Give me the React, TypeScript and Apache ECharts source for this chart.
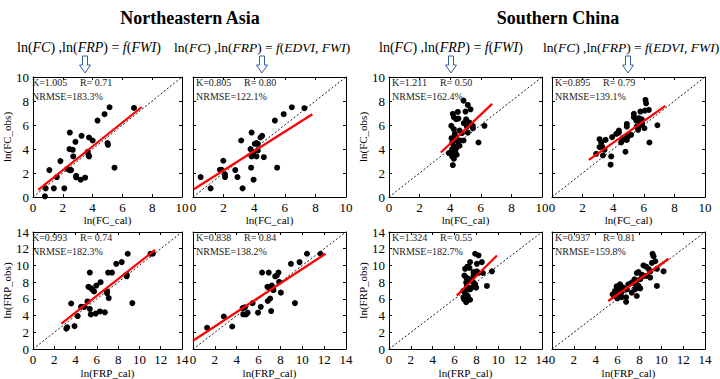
import React, { useEffect, useRef } from 'react';
import * as echarts from 'echarts';

// ---- Data ----
const panelKeys = ['NE FC FWI', 'NE FC EDVI', 'SC FC FWI', 'SC FC EDVI', 'NE FRP FWI', 'NE FRP EDVI', 'SC FRP FWI', 'SC FRP EDVI'];

const neFcFwi = [[0.8,0.06],[0.85,0.72],[1.4,0.72],[2.1,0.72],[1.1,2.24],[1.6,1.66],[1.84,2.99],[2.3,2.35],[2.45,2.24],[2.56,2.24],[2.45,3.99],[2.67,3.93],[2.47,5.37],[2.7,3.38],[2.85,4.6],[2.9,1.77],[2.9,1.63],[3.2,1.44],[3.26,5.1],[3.5,1.61],[3.67,3.77],[3.72,3.52],[3.76,3.38],[3.76,4.96],[4.0,4.71],[4.33,6.37],[5.0,4.49],[5.03,4.35],[4.8,6.9],[5.14,7.48],[5.47,2.44],[6.78,7.42]];
const neFcEdvi = [[0.5,1.66],[1.15,0.72],[1.76,2.27],[1.87,2.27],[1.98,3.02],[2.09,1.88],[2.09,1.66],[2.76,2.24],[2.91,1.66],[3.15,4.71],[3.24,0.72],[3.76,3.99],[3.83,5.37],[3.83,3.38],[3.8,2.44],[3.93,3.71],[3.96,1.44],[4.04,4.43],[4.15,4.49],[4.24,4.43],[4.15,3.38],[4.24,3.88],[4.41,4.96],[4.52,5.1],[4.63,3.32],[5.5,2.44],[5.35,6.37],[5.93,6.9],[6.46,7.48],[7.28,7.4]];
const scFcFwi = [[4.17,2.66],[4.17,6.93],[4.24,6.65],[4.5,7.09],[4.87,8.03],[5.15,7.67],[5.33,7.31],[5.0,7.12],[4.39,6.48],[4.54,6.54],[5.04,6.48],[4.89,6.15],[5.09,5.87],[5.26,6.2],[5.48,5.93],[5.48,5.73],[6.24,5.93],[5.85,4.54],[4.07,5.93],[4.24,5.65],[4.61,5.54],[4.76,5.32],[5.15,5.37],[4.09,4.9],[4.24,4.76],[4.39,4.9],[4.65,4.71],[4.87,4.71],[4.13,4.49],[4.28,4.21],[4.39,4.07],[4.13,3.99],[3.91,3.66],[4.22,3.66],[4.33,3.8],[4.13,3.38],[4.43,3.52],[4.24,3.19],[4.61,4.27],[4.3,5.26],[4.52,4.54]];
const scFcEdvi = [[6.11,8.09],[6.15,7.81],[6.07,7.2],[6.33,7.26],[5.78,7.12],[5.35,6.93],[5.35,6.65],[5.5,6.37],[5.67,6.57],[5.87,6.48],[5.78,6.15],[5.72,5.93],[5.54,5.87],[5.89,6.09],[6.04,5.73],[5.63,5.6],[6.89,5.98],[6.37,4.54],[4.89,6.09],[4.89,5.87],[5.17,5.18],[4.96,5.04],[4.89,4.76],[4.63,4.9],[4.59,4.71],[4.37,5.54],[4.2,5.26],[4.37,5.37],[3.93,4.99],[4.8,3.77],[3.87,3.38],[3.83,2.69],[3.11,4.82],[3.22,4.54],[3.11,4.16],[3.28,4.21],[3.43,3.93],[3.33,3.46],[2.89,3.6],[3.5,4.76],[4.52,4.54]];
const neFrpFwi = [[3.13,2.45],[3.22,2.6],[3.9,2.75],[3.59,5.45],[4.2,3.95],[4.51,5.05],[4.82,5.05],[5.12,5.7],[5.34,4.8],[5.34,9.15],[5.21,7.45],[5.43,7.3],[5.58,7.1],[5.74,6.9],[5.43,4.15],[5.89,4.25],[5.95,7.6],[6.35,8.0],[6.29,4.5],[6.75,4.4],[6.96,6.9],[6.96,6.7],[7.06,9.15],[7.42,9.15],[7.12,6.1],[7.82,10.2],[8.34,10.4],[8.8,8.9],[8.8,8.7],[8.9,11.4],[9.33,5.5],[11.04,11.4],[11.26,11.4]];
const neFrpEdvi = [[1.29,2.55],[2.82,3.9],[3.59,2.7],[4.54,4.9],[4.75,5.0],[4.6,4.15],[4.85,4.15],[5.0,4.35],[5.46,5.5],[5.95,4.35],[6.2,5.05],[6.32,9.15],[6.93,9.15],[6.81,7.45],[6.99,7.3],[6.84,5.75],[7.06,6.05],[7.15,4.55],[7.21,7.6],[7.36,7.05],[7.52,8.7],[7.67,8.8],[7.82,9.15],[7.88,8.05],[8.04,6.75],[8.96,10.2],[9.33,5.5],[9.75,10.4],[10.43,11.4],[11.66,11.4]];
const scFrpFwi = [[7.88,11.4],[8.19,11.2],[7.42,10.4],[8.04,10.2],[8.5,10.4],[7.18,9.85],[7.36,9.7],[6.96,9.6],[7.73,9.2],[8.04,9.3],[8.19,9.1],[8.59,9.1],[9.42,9.3],[6.9,8.8],[7.06,8.55],[7.27,8.4],[7.58,8.15],[7.73,7.95],[7.88,7.75],[7.98,7.35],[7.06,7.95],[7.12,7.5],[7.18,7.25],[7.42,7.15],[8.96,7.55],[6.81,6.95],[6.96,6.75],[7.06,6.55],[7.21,6.35],[6.81,6.2],[6.87,5.95],[7.12,5.8],[7.27,6.05],[7.42,5.9],[7.06,5.6],[7.58,7.35],[7.73,8.75]];
const scFrpEdvi = [[9.2,11.4],[9.29,11.1],[9.45,10.5],[9.14,10.3],[8.37,10.0],[8.62,9.85],[8.83,9.6],[8.99,9.3],[9.6,9.6],[10.21,9.3],[7.76,9.1],[7.91,9.2],[8.22,8.9],[8.37,8.75],[8.68,8.75],[8.99,8.55],[7.55,8.35],[7.7,8.15],[8.07,8.35],[7.3,7.95],[6.99,7.75],[7.61,7.75],[7.91,7.55],[6.53,7.35],[6.23,7.75],[5.92,7.5],[6.07,7.25],[5.77,6.95],[6.84,7.15],[8.07,7.25],[9.6,7.55],[5.55,6.55],[5.67,6.35],[6.07,6.55],[6.23,6.35],[5.98,6.05],[6.38,6.2],[6.78,6.2],[6.78,5.65],[7.76,6.35],[7.3,6.75],[6.38,6.85],[7.61,7.15]];

const fitLines = [
  [[0.35, 0.6], [7.3, 7.5]],
  [[0.05, 0.65], [7.8, 6.9]],
  [[3.39, 3.71], [6.74, 7.76]],
  [[2.41, 3.1], [7.41, 7.59]],
  [[2.67, 3.05], [11.47, 11.85]],
  [[0.0, 1.0], [12.12, 11.4]],
  [[6.2, 6.4], [9.88, 11.2]],
  [[5.15, 5.75], [10.67, 10.8]],
];

const statK = ['K=1.005', 'K=0.805', 'K=1.211', 'K=0.895', 'K=0.993', 'K=0.838', 'K=1.324', 'K=0.937'];
const statR = ['R= 0.71', 'R= 0.80', 'R= 0.50', 'R= 0.79', 'R= 0.74', 'R= 0.84', 'R= 0.55', 'R= 0.81'];
const statN = ['NRMSE=183.3%', 'NRMSE=122.1%', 'NRMSE=162.4%', 'NRMSE=139.1%', 'NRMSE=182.3%', 'NRMSE=138.2%', 'NRMSE=182.7%', 'NRMSE=159.8%'];

const axisMax = [10, 14];
const xNames = ['ln(FC_cal)', 'ln(FRP_cal)'];
const yNames = ['ln(FC_obs)', 'ln(FRP_obs)'];
const regionTitles = ['Northeastern Asia', 'Southern China'];

const points = [neFcFwi, neFcEdvi, scFcFwi, scFcEdvi, neFrpFwi, neFrpEdvi, scFrpFwi, scFrpEdvi];

// ---- Layout ----
const SERIF = '"Liberation Serif", "Times New Roman", serif';
const colLefts = [29, 193, 389, 552];
const rowTops = [77, 232];
const PW = 153;
const PH = [120, 119];

function buildOption() {
  const grid: any[] = [];
  const xAxis: any[] = [];
  const yAxis: any[] = [];
  const series: any[] = [];
  const graphic: any[] = [];

  panelKeys.forEach((_, i) => {
    const col = i % 4;
    const row = Math.floor(i / 4);
    const max = axisMax[row];
    const left = colLefts[col];
    const top = rowTops[row];
    grid.push({ left, top, width: PW, height: PH[row], show: false });
    const tick = { inside: true, length: 3, lineStyle: { color: '#000', width: 1 } };
    const line = { show: true, onZero: false, lineStyle: { color: '#000', width: 1 } };
    const showY = col === 0 || col === 2;
    xAxis.push({
      type: 'value', gridIndex: i, min: 0, max, interval: 2, position: 'bottom',
      axisLine: line, axisTick: tick, splitLine: { show: false },
      axisLabel: { color: '#000', fontFamily: SERIF, fontSize: 13, margin: 4, showMinLabel: true, showMaxLabel: true },
      name: xNames[row], nameLocation: 'middle', nameGap: 16,
      nameTextStyle: { color: '#000', fontFamily: SERIF, fontSize: 11 },
    });
    xAxis.push({
      type: 'value', gridIndex: i, min: 0, max, interval: 2, position: 'top',
      axisLine: line, axisTick: tick, splitLine: { show: false }, axisLabel: { show: false },
    });
    yAxis.push({
      type: 'value', gridIndex: i, min: 0, max, interval: 2, position: 'left',
      axisLine: line, axisTick: tick, splitLine: { show: false },
      axisLabel: { show: showY, color: '#000', fontFamily: SERIF, fontSize: 13, margin: 4, showMinLabel: true, showMaxLabel: true },
      name: showY ? yNames[row] : '', nameLocation: 'middle', nameGap: 21,
      nameTextStyle: { color: '#000', fontFamily: SERIF, fontSize: 11 },
    });
    yAxis.push({
      type: 'value', gridIndex: i, min: 0, max, interval: 2, position: 'right',
      axisLine: line, axisTick: tick, splitLine: { show: false }, axisLabel: { show: false },
    });

    series.push({
      type: 'line', xAxisIndex: 2 * i, yAxisIndex: 2 * i, data: [[0, 0], [max, max]],
      symbol: 'none', silent: true, z: 1,
      lineStyle: { color: '#000', width: 0.9, type: [2, 2] },
    });
    series.push({
      type: 'scatter', xAxisIndex: 2 * i, yAxisIndex: 2 * i, data: points[i],
      symbol: 'circle', symbolSize: 6, itemStyle: { color: '#000', opacity: 1 }, z: 2,
    });
    series.push({
      type: 'line', xAxisIndex: 2 * i, yAxisIndex: 2 * i, data: fitLines[i],
      symbol: 'none', silent: true, z: 3,
      lineStyle: { color: '#ff0000', width: 2.2 },
    });

    graphic.push({
      type: 'text', left: left + 3, top: top + 0, z: 10,
      style: { text: statK[i], fontFamily: SERIF, fontSize: 10, fill: '#222' },
    });
    graphic.push({
      type: 'text', left: left + 51, top: top + 0, z: 10,
      style: { text: statR[i], fontFamily: SERIF, fontSize: 10, fill: '#222' },
    });
    graphic.push({
      type: 'text', left: left + 3, top: top + 14, z: 10,
      style: { text: statN[i], fontFamily: SERIF, fontSize: 10, fill: '#222' },
    });
  });

  // region titles
  const titleCenters = [190, 558];
  regionTitles.forEach((t, k) => {
    graphic.push({
      type: 'text', x: titleCenters[k], y: 18, z: 10,
      style: { text: t, fontFamily: SERIF, fontSize: 18, fontWeight: 'bold', fill: '#000', align: 'center', verticalAlign: 'middle' },
    });
  });

  // equations
  const mkRich = (fs: number) => ({
    n: { fontFamily: SERIF, fontSize: fs, fill: '#000' },
    i: { fontFamily: SERIF, fontSize: fs, fontStyle: 'italic', fill: '#000' },
  });
  const eq1 = '{n|ln(}{i|FC}{n|) ,ln(}{i|FRP}{n|) = }{i|f}{n|(}{i|FWI}{n|)}';
  const eq2 = '{n|ln(}{i|FC}{n|) ,ln(}{i|FRP}{n|) = }{i|f}{n|(}{i|EDVI, FWI}{n|)}';
  const eqLefts = [17, 174, 379, 543];
  eqLefts.forEach((x, k) => {
    graphic.push({
      type: 'text', x, y: 47, z: 10,
      style: { text: k % 2 === 0 ? eq1 : eq2, rich: mkRich(k % 2 === 0 ? 14 : 13.5), verticalAlign: 'middle', align: 'left' },
    });
  });

  // hollow arrows
  const arrowX = [85, 262, 451, 628];
  arrowX.forEach((cx) => {
    graphic.push({
      type: 'polygon', z: 10,
      shape: { points: [[cx - 2.5, 56], [cx + 2.5, 56], [cx + 2.5, 65], [cx + 5.5, 65], [cx, 73], [cx - 5.5, 65], [cx - 2.5, 65]] },
      style: { fill: '#fff', stroke: '#2f5fa8', lineWidth: 1 },
    });
  });

  return { animation: false, backgroundColor: '#fff', grid, xAxis, yAxis, series, graphic };
}

export default function App() {
  const ref = useRef<HTMLDivElement>(null);
  useEffect(() => {
    if (!ref.current) return;
    const chart = echarts.init(ref.current, undefined, { renderer: 'svg' });
    chart.setOption(buildOption() as any);
    return () => chart.dispose();
  }, []);
  return <div ref={ref} style={{ position: 'absolute', left: 0, top: 0, width: 720, height: 379, background: '#fff' }} />;
}
